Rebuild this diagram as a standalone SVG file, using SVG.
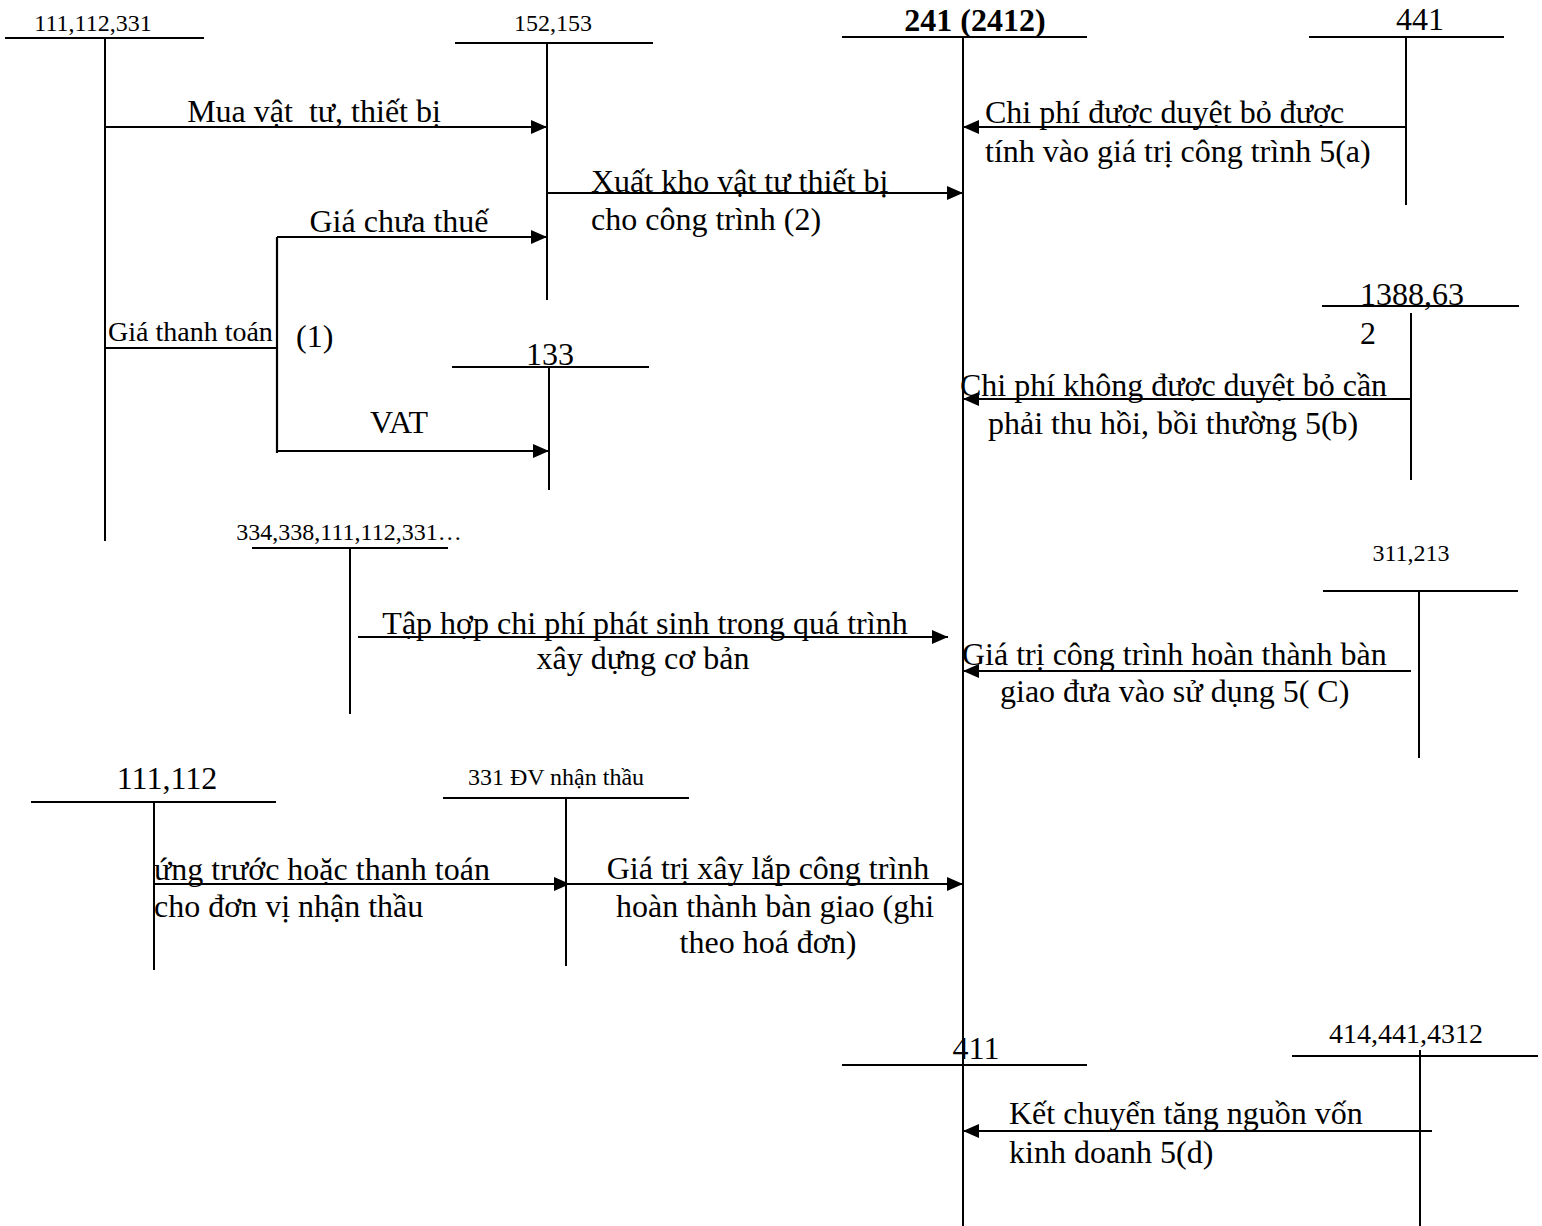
<svg xmlns="http://www.w3.org/2000/svg" width="1542" height="1226" viewBox="0 0 1542 1226">
<defs>
<marker id="ah" markerUnits="userSpaceOnUse" markerWidth="16" markerHeight="14" refX="16" refY="7" orient="auto">
<path d="M0,0 L16,7 L0,14 Z" fill="#000"/>
</marker>
<style>
text{font-family:"Liberation Serif","Times New Roman",serif;fill:#000}
.s{font-size:24px}
.t{font-size:28px}
.m{font-size:32px}
.n{font-size:32px}
.acc line{stroke:#000;stroke-width:2}
.cn line,.cn polyline{stroke:#000;stroke-width:2.2;fill:none}
.ar{marker-end:url(#ah)}
</style>
</defs>
<rect width="1542" height="1226" fill="#fff"/>

<g id="acc-111-112-331" class="acc">
<line x1="5" y1="38" x2="204" y2="38"/><line x1="105" y1="38" x2="105" y2="541"/>
<text class="s" x="93" y="31" text-anchor="middle">111,112,331</text>
</g>
<g id="acc-152-153" class="acc">
<line x1="455" y1="43" x2="653" y2="43"/><line x1="547" y1="43" x2="547" y2="300"/>
<text class="s" x="553" y="31" text-anchor="middle">152,153</text>
</g>
<g id="acc-241" class="acc">
<line x1="842" y1="37" x2="1087" y2="37"/><line x1="963" y1="37" x2="963" y2="1226"/>
<text class="n" x="975" y="31" text-anchor="middle" font-weight="bold">241 (2412)</text>
</g>
<g id="acc-441" class="acc">
<line x1="1309" y1="37" x2="1504" y2="37"/><line x1="1406" y1="37" x2="1406" y2="205"/>
<text class="n" x="1420" y="30" text-anchor="middle">441</text>
</g>
<g id="acc-133" class="acc">
<line x1="452" y1="367" x2="649" y2="367"/><line x1="549" y1="367" x2="549" y2="490"/>
<text class="n" x="550" y="365" text-anchor="middle">133</text>
</g>
<g id="acc-1388" class="acc">
<line x1="1322" y1="306" x2="1519" y2="306"/><line x1="1411" y1="313" x2="1411" y2="480"/>
<text class="n" x="1412" y="305" text-anchor="middle">1388,63</text>
<text class="n" x="1368" y="344" text-anchor="middle">2</text>
</g>
<g id="acc-334" class="acc">
<line x1="252" y1="548" x2="448" y2="548"/><line x1="350" y1="548" x2="350" y2="714"/>
<text class="s" x="349" y="540" text-anchor="middle">334,338,111,112,331…</text>
</g>
<g id="acc-311-213" class="acc">
<line x1="1323" y1="591" x2="1518" y2="591"/><line x1="1419" y1="591" x2="1419" y2="758"/>
<text class="s" x="1411" y="561" text-anchor="middle">311,213</text>
</g>
<g id="acc-111-112" class="acc">
<line x1="31" y1="802" x2="276" y2="802"/><line x1="154" y1="802" x2="154" y2="970"/>
<text class="n" x="167" y="789" text-anchor="middle">111,112</text>
</g>
<g id="acc-331" class="acc">
<line x1="443" y1="798" x2="689" y2="798"/><line x1="566" y1="798" x2="566" y2="966"/>
<text class="s" x="556" y="785" text-anchor="middle">331 ĐV nhận thầu</text>
</g>
<g id="acc-411" class="acc">
<line x1="842" y1="1065" x2="1087" y2="1065"/>
<text class="n" x="976" y="1059" text-anchor="middle">411</text>
</g>
<g id="acc-414" class="acc">
<line x1="1292" y1="1056" x2="1538" y2="1056"/><line x1="1420" y1="1050" x2="1420" y2="1226"/>
<text class="t" x="1406" y="1043" text-anchor="middle">414,441,4312</text>
</g>

<g id="connectors" class="cn">
<line class="ar" x1="105" y1="127" x2="547" y2="127"/>
<line class="ar" x1="547" y1="193" x2="963" y2="193"/>
<line class="ar" x1="1406" y1="127" x2="963" y2="127"/>
<line x1="105" y1="348" x2="277" y2="348"/>
<line x1="277" y1="237" x2="277" y2="453"/>
<line class="ar" x1="277" y1="237" x2="547" y2="237"/>
<line class="ar" x1="277" y1="451" x2="549" y2="451"/>
<line class="ar" x1="1411" y1="399" x2="963" y2="399"/>
<line class="ar" x1="358" y1="637" x2="948" y2="637"/>
<line class="ar" x1="1411" y1="671" x2="963" y2="671"/>
<line class="ar" x1="154" y1="884" x2="570" y2="884"/>
<line class="ar" x1="566" y1="884" x2="963" y2="884"/>
<line class="ar" x1="1432" y1="1131" x2="963" y2="1131"/>
</g>

<g id="labels">
<text class="m" x="314" y="122" text-anchor="middle" xml:space="preserve">Mua vật  tư, thiết bị</text>
<text class="m" x="591" y="192">Xuất kho vật tư thiết bị</text>
<text class="m" x="591" y="230">cho công trình (2)</text>
<text class="m" x="985" y="123">Chi phí được duyệt bỏ được</text>
<text class="m" x="985" y="162">tính vào giá trị công trình 5(a)</text>
<text class="m" x="399" y="232" text-anchor="middle">Giá chưa thuế</text>
<text class="t" x="108" y="341">Giá thanh toán</text>
<text class="n" x="296" y="347">(1)</text>
<text class="m" x="399" y="433" text-anchor="middle">VAT</text>
<text class="m" x="960" y="396">Chi phí không được duyệt bỏ cần</text>
<text class="m" x="988" y="434">phải thu hồi, bồi thường 5(b)</text>
<text class="m" x="645" y="634" text-anchor="middle">Tập hợp chi phí phát sinh trong quá trình</text>
<text class="m" x="643" y="669" text-anchor="middle">xây dựng cơ bản</text>
<text class="m" x="962" y="665">Giá trị công trình hoàn thành bàn</text>
<text class="m" x="1000" y="702">giao đưa vào sử dụng 5( C)</text>
<text class="m" x="154" y="880">ứng trước hoặc thanh toán</text>
<text class="m" x="154" y="917">cho đơn vị nhận thầu</text>
<text class="m" x="768" y="879" text-anchor="middle">Giá trị xây lắp công trình</text>
<text class="m" x="775" y="917" text-anchor="middle">hoàn thành bàn giao (ghi</text>
<text class="m" x="768" y="953" text-anchor="middle">theo hoá đơn)</text>
<text class="m" x="1009" y="1124">Kết chuyển tăng nguồn vốn</text>
<text class="m" x="1009" y="1163">kinh doanh 5(d)</text>
</g>
</svg>
